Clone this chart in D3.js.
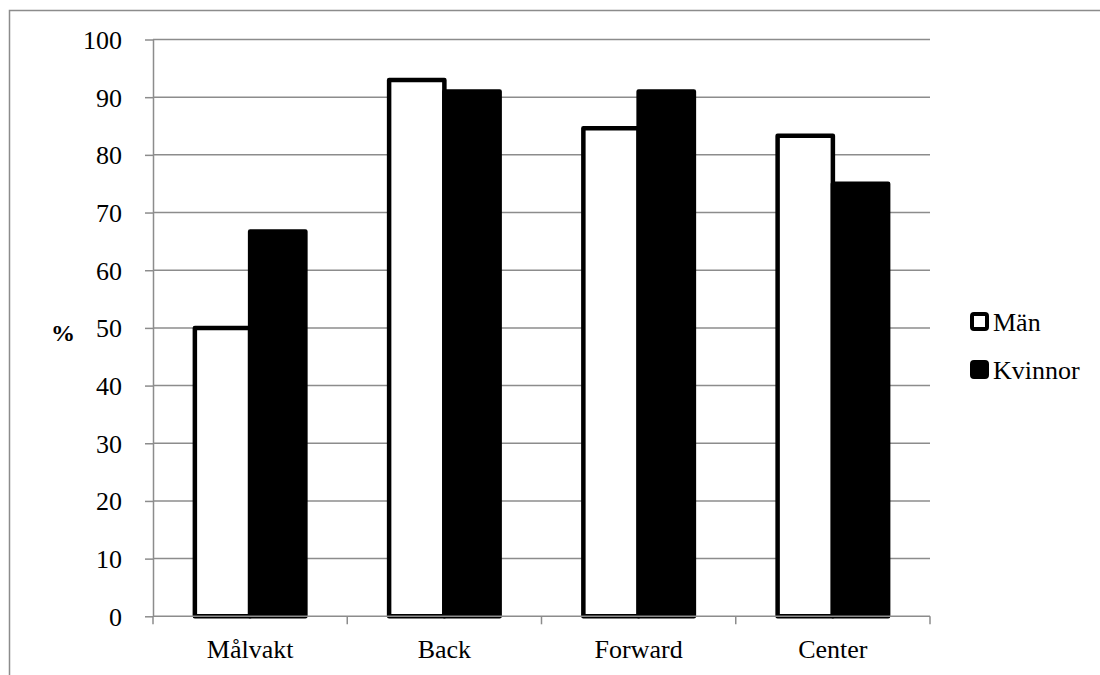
<!DOCTYPE html>
<html>
<head>
<meta charset="utf-8">
<script src="https://cdn.jsdelivr.net/npm/d3@7"></script>
<style>
  html, body { margin: 0; padding: 0; background: #fff; }
  svg { display: block; }
  text { font-family: "Liberation Serif", "DejaVu Serif", serif; fill: #000; }
</style>
</head>
<body>
<svg id="chart" width="1100" height="675"></svg>
<script>
// Andel per position (%), män och kvinnor
const categories = ["Målvakt", "Back", "Forward", "Center"];
const seriesNames = ["Män", "Kvinnor"];
const manValues = [50, 93, 84.6, 83.3];
const kvinnorValues = [66.7, 91, 91, 75];
const yTicks = [0, 10, 20, 30, 40, 50, 60, 70, 80, 90, 100];

const rows = categories.map((c, i) => ({ cat: c, values: [manValues[i], kvinnorValues[i]] }));

const svg = d3.select("#chart");
const grey = "#8c8c8c";
const fontFamily = "'Liberation Serif', 'DejaVu Serif', serif";
const fontSize = 26;

// chart frame
svg.append("rect")
  .attr("x", 9.5).attr("y", 10.5)
  .attr("width", 1200).attr("height", 800)
  .attr("fill", "none").attr("stroke", grey).attr("stroke-width", 1.5);

const plotLeft = 153, plotRight = 930, plotTop = 39.5, plotBottom = 616.3;

const y = d3.scaleLinear().domain([0, 100]).range([plotBottom, plotTop]);
const x0 = d3.scaleBand().domain(categories).range([plotLeft, plotRight])
  .paddingInner(0.431).paddingOuter(0.2155);
const x1 = d3.scaleBand().domain(seriesNames).range([0, x0.bandwidth()]);

// horizontal gridlines
svg.append("g")
  .selectAll("line")
  .data(yTicks.filter(t => t > 0))
  .join("line")
  .attr("x1", plotLeft).attr("x2", plotRight)
  .attr("y1", d => y(d)).attr("y2", d => y(d))
  .attr("stroke", grey).attr("stroke-width", 1.5);

// bars
const fills = { "Män": "#fff", "Kvinnor": "#000" };
svg.append("g")
  .selectAll("g")
  .data(rows)
  .join("g")
  .attr("transform", d => `translate(${x0(d.cat)},0)`)
  .selectAll("rect")
  .data(d => d.values.map((v, i) => ({ s: seriesNames[i], v })))
  .join("rect")
  .attr("x", d => x1(d.s))
  .attr("width", x1.bandwidth())
  .attr("y", d => y(d.v))
  .attr("height", d => y(0) - y(d.v))
  .attr("fill", d => fills[d.s])
  .attr("stroke", "#000")
  .attr("stroke-width", 4.5)
  .attr("stroke-linejoin", "round");

// y axis
const yAxis = d3.axisLeft(y).tickValues(yTicks).tickSize(8).tickPadding(23);
const gy = svg.append("g").attr("transform", `translate(${plotLeft},0)`).call(yAxis);
gy.select(".domain").attr("stroke", grey).attr("stroke-width", 1.5)
  .attr("d", `M0.5,${plotBottom}V${plotTop}`);
gy.selectAll(".tick line").attr("stroke", grey).attr("stroke-width", 1.5);
gy.selectAll(".tick text").attr("font-size", fontSize)
  .attr("dy", "0.34em")
  .style("font-family", fontFamily);

// x axis
const xAxis = d3.axisBottom(x0).tickSize(0);
const gx = svg.append("g").attr("transform", `translate(0,${plotBottom})`).call(xAxis);
gx.select(".domain").attr("stroke", grey).attr("stroke-width", 1.5)
  .attr("d", `M${plotLeft},0H${plotRight}`);
gx.selectAll(".tick text").attr("font-size", fontSize)
  .attr("y", 42).attr("dy", 0)
  .style("font-family", fontFamily);

// x axis tick marks between categories
const boundaries = d3.range(categories.length + 1)
  .map(i => plotLeft + i * (plotRight - plotLeft) / categories.length);
gx.append("g").selectAll("line")
  .data(boundaries)
  .join("line")
  .attr("x1", d => d).attr("x2", d => d)
  .attr("y1", 0).attr("y2", 8)
  .attr("stroke", grey).attr("stroke-width", 1.5);

// y axis title
svg.append("text")
  .attr("x", 63).attr("y", 341)
  .attr("text-anchor", "middle")
  .attr("font-size", 24).attr("font-weight", "bold")
  .text("%");

// legend
const legend = svg.append("g").attr("transform", "translate(970,312)");
const item = legend.selectAll("g")
  .data(seriesNames)
  .join("g")
  .attr("transform", (d, i) => `translate(0,${i * 48})`);
item.append("rect")
  .attr("x", 2).attr("y", 2)
  .attr("width", 15).attr("height", 15)
  .attr("rx", 2)
  .attr("fill", d => fills[d])
  .attr("stroke", "#000").attr("stroke-width", 4);
item.append("text")
  .attr("x", 23).attr("y", 19)
  .attr("font-size", fontSize)
  .text(d => d);
</script>
</body>
</html>
